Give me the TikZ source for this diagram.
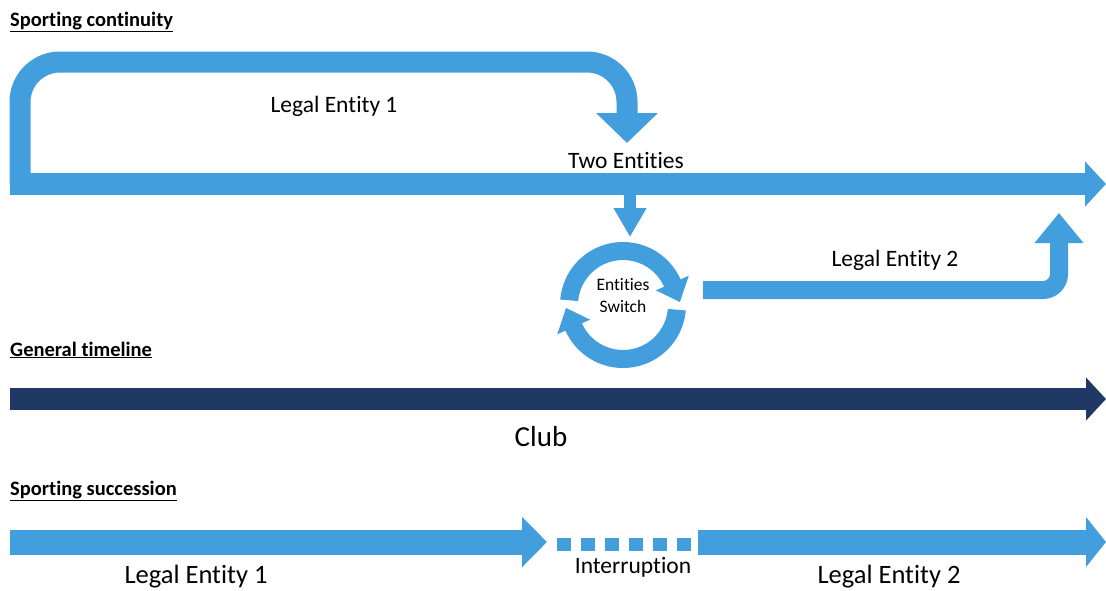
\documentclass[tikz,border=0pt]{standalone}
\usepackage{fontspec}
\setmainfont[Ligatures=NoCommon]{Carlito}
\usetikzlibrary{arrows.meta,calc}
\definecolor{lblue}{RGB}{66,158,220}
\definecolor{navy}{RGB}{31,56,100}
\begin{document}
\begin{tikzpicture}[x=1pt,y=-1pt,
  lbl/.style={font=\fontsize{23.5}{28}\selectfont, inner sep=0pt},
  biglbl/.style={font=\fontsize{26.5}{30}\selectfont, inner sep=0pt},
  hdr/.style={font=\fontsize{20.5}{24}\selectfont\bfseries, anchor=base west, inner sep=0pt},
  band/.style={draw=#1, line cap=butt},
  bigtip/.style n args={2}{-{Triangle[length=#1pt,width=#2pt]}},
]
\useasboundingbox (0,0) rectangle (1106,590);

% headings
\node[hdr] (h1) at (10,26) {\underline{Sporting continuity}};
\node[hdr] (h2) at (10,356) {\underline{General timeline}};
\node[hdr] (h3) at (10,495) {\underline{Sporting succession}};

% ---- Sporting continuity ----
\coordinate (mainS) at (10,184);
\coordinate (mainE) at (1106,184);
\coordinate (loopS) at (20,184);
\coordinate (loopA) at (20,62);
\coordinate (loopB) at (627,62);
\coordinate (loopE) at (627,143);
\draw[band=lblue, line width=21pt, rounded corners=40pt, bigtip={30}{60}]
  (loopS) -- (loopA) -- (loopB) -- (loopE);
\draw[band=lblue, line width=22pt, bigtip={21}{44}] (mainS) -- (mainE);

\coordinate (dnS) at (630,195);
\coordinate (dnE) at (630,237);
\draw[band=lblue, line width=12pt, bigtip={29}{31}] (dnS) -- (dnE);

% entities switch
\coordinate (sw) at (623,305);
\fill[lblue] ($(sw)+(185:63)$) arc[start angle=185,end angle=336,radius=63]
  -- ($(sw)+(336:72)$) -- ($(sw)+(357:57)$) -- ($(sw)+(336:36)$)
  -- ($(sw)+(336:45)$) arc[start angle=336,end angle=185,radius=45] -- cycle;
\fill[lblue] ($(sw)+(5:63)$) arc[start angle=5,end angle=156,radius=63]
  -- ($(sw)+(156:72)$) -- ($(sw)+(177:57)$) -- ($(sw)+(156:36)$)
  -- ($(sw)+(156:45)$) arc[start angle=156,end angle=5,radius=45] -- cycle;
\node[font=\fontsize{17.5}{22}\selectfont, align=center, inner sep=0pt] (swt) at (623,296) {Entities\\Switch};

\coordinate (e2S) at (703,290);
\coordinate (e2A) at (1059,290);
\coordinate (e2E) at (1059,213);
\draw[band=lblue, line width=18pt, rounded corners=16pt, bigtip={30}{47}]
  (e2S) -- (e2A) -- (e2E);

\node[lbl] (le1) at (334,106) {Legal Entity 1};
\node[lbl] (two) at (626,160) {Two Entities};
\node[lbl] (le2) at (895,260) {Legal Entity 2};

% ---- General timeline ----
\coordinate (gS) at (10,399);
\coordinate (gE) at (1106,399);
\draw[band=navy, line width=22pt, bigtip={20}{42}] (gS) -- (gE);
\node[font=\fontsize{29}{34}\selectfont, inner sep=0pt] (club) at (541,437) {Club};

% ---- Sporting succession ----
\coordinate (s1S) at (10,542);
\coordinate (s1E) at (547,542);
\coordinate (s2S) at (698,542);
\coordinate (s2E) at (1106,542);
\coordinate (dS) at (557,544);
\coordinate (dE) at (691,544);
\draw[band=lblue, line width=25pt, bigtip={25}{49}] (s1S) -- (s1E);
\draw[band=lblue, line width=13pt, dash pattern=on 14pt off 10pt] (dS) -- (dE);
\draw[band=lblue, line width=25pt, bigtip={20}{49}] (s2S) -- (s2E);

\node[biglbl] (l1) at (196,577) {Legal Entity 1};
\node[lbl] (intr) at (633,567) {Interruption};
\node[biglbl] (l2) at (889,577) {Legal Entity 2};
\end{tikzpicture}
\end{document}
